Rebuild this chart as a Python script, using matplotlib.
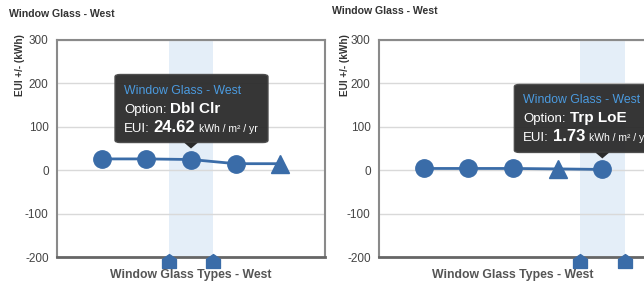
import matplotlib
matplotlib.use("Agg")
import matplotlib.pyplot as plt
from matplotlib.patches import FancyBboxPatch, Polygon
from matplotlib.path import Path
import matplotlib.transforms as mtransforms

# ---------------- data ----------------
chart_title = "Window Glass - West"
x_axis_title = "Window Glass Types - West"
y_axis_title = "EUI +/- (kWh)"
y_ticks = [-200, -100, 0, 100, 200, 300]

left_options = ["Sgl Clr", "Sgl LoE", "Dbl Clr", "Dbl LoE", "Trp Clr"]
left_values = [26, 26, 24.62, 15, 15]
left_markers = ["o", "o", "o", "o", "^"]
left_selected = 2

right_options = ["Sgl Clr", "Sgl LoE", "Dbl Clr", "Dbl LoE", "Trp LoE"]
right_values = [4, 4, 4, 3, 1.73]
right_markers = ["o", "o", "o", "^", "o"]
right_selected = 4

# ---------------- style ----------------
W, H = 644, 284
BLUE = "#3a6ca8"
BAND = "#e4eef8"
GRID = "#d9d9d9"
FRAME = "#8a8a8a"
TXT = "#444444"
FAM = ["Liberation Sans Narrow", "Liberation Sans", "DejaVu Sans"]
FAM_R = ["Liberation Sans", "DejaVu Sans"]

fig = plt.figure(figsize=(W / 100, H / 100), dpi=100)


def fx(px):
    return px / W


def fy(py):
    return 1 - py / H


handle_path = Path([(-1, -1), (1, -1), (1, 0.3), (0, 1), (-1, 0.3), (-1, -1)],
                   [Path.MOVETO, Path.LINETO, Path.LINETO, Path.LINETO, Path.LINETO, Path.CLOSEPOLY])


def draw_panel(left_px, values, markers, selected):
    ax = fig.add_axes([fx(left_px), fy(257), 268 / W, 217 / H])
    n = len(values)
    xs = list(range(n))
    ax.set_xlim(-1, n)
    ax.set_ylim(y_ticks[0], y_ticks[-1])
    ax.set_yticks(y_ticks)
    ax.set_yticklabels([str(t) for t in y_ticks], fontsize=8.5, color=TXT, family=FAM_R)
    ax.set_xticks([])
    ax.tick_params(axis="y", length=0, pad=6)
    for t in y_ticks:
        ax.axhline(t, color=GRID, lw=1, zorder=1)
    for s in ["left", "top", "right"]:
        ax.spines[s].set_color(FRAME)
        ax.spines[s].set_linewidth(1.5)
    ax.spines["bottom"].set_color("#666666")
    ax.spines["bottom"].set_linewidth(2)
    # highlight band
    ax.axvspan(selected - 0.5, selected + 0.5, color=BAND, zorder=0.5, lw=0)
    # line and markers
    ax.plot(xs, values, color=BLUE, lw=2, zorder=3)
    for x, v, m in zip(xs, values, markers):
        ms = 12.5 if m == "o" else 13.5
        ax.plot([x], [v], marker=m, ms=ms, color=BLUE, mec=BLUE, zorder=4, ls="none")
    # band handles
    trans = mtransforms.blended_transform_factory(ax.transData, ax.transAxes)
    off = mtransforms.ScaledTranslation(0, -4 / 100, fig.dpi_scale_trans)
    for hx in (selected - 0.5, selected + 0.5):
        ax.plot([hx], [0], marker=handle_path, ms=10, color=BLUE, mec=BLUE,
                transform=trans + off, clip_on=False, zorder=5)
    ax.set_facecolor("white")
    return ax


axL = draw_panel(57, left_values, left_markers, left_selected)
axR = draw_panel(379, right_values, right_markers, right_selected)

# titles and axis labels
fig.text(fx(9), fy(14), chart_title, fontsize=7.6, weight="bold", color="#333333",
         family=FAM, va="center", ha="left")
fig.text(fx(332), fy(11), chart_title, fontsize=7.6, weight="bold", color="#333333",
         family=FAM, va="center", ha="left")
for cx in (20, 345):
    fig.text(fx(cx), fy(65), y_axis_title, fontsize=7.2, weight="bold", color="#333333",
             family=FAM, rotation=90, va="center", ha="center")
for cx in (191, 513):
    fig.text(fx(cx), fy(275), x_axis_title, fontsize=8.8, weight="bold", color="#555555",
             family=FAM, va="center", ha="center")

renderer = fig.canvas.get_renderer()


def rich_line(x_px, y_px, pieces):
    x = x_px
    for txt, size, weight, color, gap in pieces:
        t = fig.text(fx(x), fy(y_px), txt, fontsize=size, weight=weight, color=color,
                     family=FAM, va="baseline", ha="left", zorder=7)
        bb = t.get_window_extent(renderer)
        x += bb.width + gap


def tooltip(ax, idx, value, option, box_left_offset, box_w):
    px, py = ax.transData.transform((idx, value))
    py = H - py
    top = py - 85
    bh = 68
    left = px + box_left_offset
    box = FancyBboxPatch((fx(left), fy(top + bh)), box_w / W, bh / H,
                         boxstyle="round,pad=0,rounding_size=0.008",
                         transform=fig.transFigure, facecolor="#2b2b2b",
                         edgecolor="#4a4a4a", lw=1, zorder=6, alpha=0.95)
    fig.add_artist(box)
    tri = Polygon([(fx(px - 7), fy(top + bh)), (fx(px + 7), fy(top + bh)),
                   (fx(px), fy(top + bh + 6))], closed=True, transform=fig.transFigure,
                  facecolor="#2b2b2b", edgecolor="none", zorder=6)
    fig.add_artist(tri)
    tx = left + 9
    rich_line(tx, top + 19, [(chart_title, 8.8, "normal", "#4b9be0", 0)])
    rich_line(tx, top + 38, [("Option:", 9.5, "normal", "white", 4),
                             (option, 11, "bold", "white", 0)])
    rich_line(tx, top + 57, [("EUI:", 9.5, "normal", "white", 4),
                             (f"{value:.2f}", 12, "bold", "white", 4),
                             ("kWh / m² / yr", 7.5, "normal", "white", 0)])


tooltip(axL, left_selected, left_values[left_selected], left_options[left_selected], -76, 153)
tooltip(axR, right_selected, right_values[right_selected], right_options[right_selected], -88, 153)

fig.savefig("out.png", dpi=100)
